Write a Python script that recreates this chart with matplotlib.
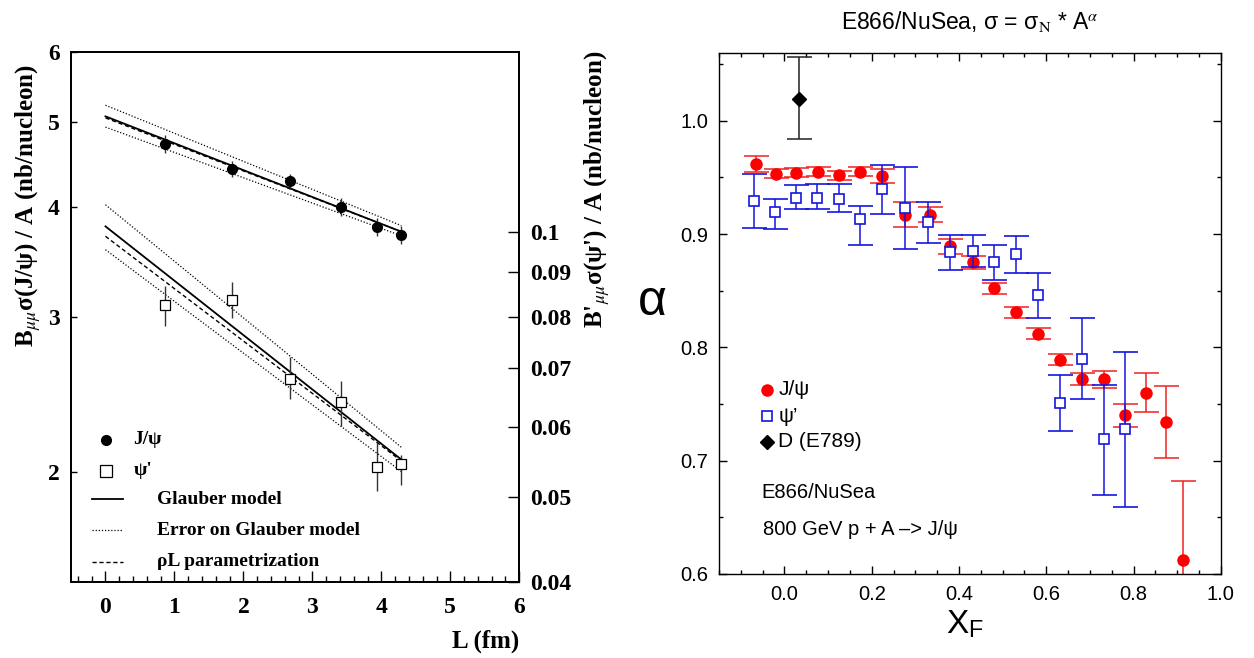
import matplotlib
matplotlib.use('Agg')
import matplotlib.pyplot as plt
from matplotlib.ticker import FixedLocator, MultipleLocator, NullLocator

plt.rcParams['font.family'] = ['Liberation Sans', 'DejaVu Sans']
plt.rcParams['mathtext.fontset'] = 'stix'

# ---- left panel: cross section per nucleon vs L ----
L_pts = [0.86, 1.84, 2.67, 3.41, 3.93, 4.29]
jpsi_sig = [4.72, 4.42, 4.28, 4.00, 3.80, 3.72]
jpsi_sig_err = [0.11, 0.09, 0.08, 0.09, 0.09, 0.09]
psip_sig = [0.0825, 0.0837, 0.0681, 0.0640, 0.0540, 0.0544]
psip_sig_lo = [0.0782, 0.0798, 0.0645, 0.0601, 0.0508, 0.0516]
psip_sig_hi = [0.0868, 0.0876, 0.0720, 0.0676, 0.0575, 0.0558]

L_model = [0.0, 4.29]
jpsi_glauber = [5.07, 3.75]
jpsi_glauber_hi = [5.22, 3.81]
jpsi_glauber_lo = [4.93, 3.71]
jpsi_rhoL = [5.05, 3.75]
psip_glauber = [0.1014, 0.0551]
psip_glauber_hi = [0.1073, 0.0569]
psip_glauber_lo = [0.0954, 0.0534]
psip_rhoL = [0.0988, 0.0549]

left_yticks = [2, 3, 4, 5, 6]
right_yticks = [0.04, 0.05, 0.06, 0.07, 0.08, 0.09, 0.1]
right_ylabels = ['0.04', '0.05', '0.06', '0.07', '0.08', '0.09', '0.1']

# ---- right panel: alpha vs xF ----
jpsi_xf = [-0.066, -0.020, 0.026, 0.076, 0.124, 0.173, 0.223, 0.277, 0.333, 0.380, 0.432,
           0.481, 0.531, 0.582, 0.632, 0.683, 0.732, 0.781, 0.828, 0.874, 0.914]
jpsi_alpha = [0.962, 0.953, 0.954, 0.955, 0.952, 0.955, 0.951, 0.917, 0.917, 0.889, 0.875,
              0.852, 0.831, 0.812, 0.789, 0.772, 0.772, 0.740, 0.760, 0.734, 0.612]
jpsi_alpha_err = [0.007, 0.004, 0.004, 0.004, 0.004, 0.004, 0.006, 0.011, 0.0065, 0.007, 0.0055,
                  0.005, 0.005, 0.005, 0.005, 0.0055, 0.0075, 0.010, 0.017, 0.032, 0.07]

psip_xf = [-0.069, -0.021, 0.026, 0.075, 0.124, 0.173, 0.224, 0.277, 0.330, 0.380, 0.431,
           0.481, 0.531, 0.582, 0.632, 0.683, 0.732, 0.781]
psip_alpha = [0.929, 0.919, 0.932, 0.932, 0.931, 0.913, 0.940, 0.923, 0.911, 0.884, 0.885,
              0.875, 0.882, 0.846, 0.751, 0.790, 0.719, 0.728]
psip_alpha_lo = [0.905, 0.904, 0.922, 0.922, 0.919, 0.890, 0.918, 0.887, 0.892, 0.868, 0.871,
                 0.859, 0.866, 0.826, 0.726, 0.754, 0.670, 0.659]
psip_alpha_hi = [0.953, 0.931, 0.943, 0.944, 0.944, 0.925, 0.961, 0.959, 0.928, 0.899, 0.899,
                 0.890, 0.898, 0.866, 0.776, 0.826, 0.767, 0.796]

d_xf = [0.033]
d_alpha = [1.0194]
d_alpha_lo = [0.9835]
d_alpha_hi = [1.0558]

serif = 'Liberation Serif'

fig = plt.figure(figsize=(12.54, 6.58), dpi=100)

# ================= left panel =================
ax1 = fig.add_axes([0.0566, 0.1155, 0.3575, 0.8055])
ax1.set_yscale('log')
ax1.set_xlim(-0.5, 6)
ax1.set_ylim(1.5, 6)
ax2 = ax1.twinx()
ax2.set_yscale('log')
ax2.set_ylim(0.04, 0.16)

# model curves
ax1.plot(L_model, jpsi_glauber, '-', color='black', lw=1.3)
ax1.plot(L_model, jpsi_glauber_hi, color='black', lw=0.9, ls=(0, (1, 1.5)))
ax1.plot(L_model, jpsi_glauber_lo, color='black', lw=0.9, ls=(0, (1, 1.5)))
ax1.plot(L_model, jpsi_rhoL, color='black', lw=1.0, ls=(0, (3, 2)))
ax2.plot(L_model, psip_glauber, '-', color='black', lw=1.3)
ax2.plot(L_model, psip_glauber_hi, color='black', lw=0.9, ls=(0, (1, 1.5)))
ax2.plot(L_model, psip_glauber_lo, color='black', lw=0.9, ls=(0, (1, 1.5)))
ax2.plot(L_model, psip_rhoL, color='black', lw=1.0, ls=(0, (3, 2)))

# data
ax1.errorbar(L_pts, jpsi_sig, yerr=jpsi_sig_err, fmt='o', color='black', ms=7,
             ecolor='#333333', elinewidth=1, capsize=0)
psip_err = [[v - lo for v, lo in zip(psip_sig, psip_sig_lo)],
            [hi - v for v, hi in zip(psip_sig, psip_sig_hi)]]
ax2.errorbar(L_pts, psip_sig, yerr=psip_err, fmt='s', mfc='white', mec='black', mew=0.9,
             ms=7.5, ecolor='#333333', elinewidth=1, capsize=0)

# ticks
ax1.set_xticks([0, 1, 2, 3, 4, 5, 6])
ax1.xaxis.set_minor_locator(MultipleLocator(0.2))
ax1.yaxis.set_major_locator(FixedLocator(left_yticks))
ax1.yaxis.set_minor_locator(NullLocator())
ax1.set_yticklabels([str(v) for v in left_yticks])
ax2.yaxis.set_major_locator(FixedLocator(right_yticks))
ax2.yaxis.set_minor_locator(NullLocator())
ax2.set_yticklabels(right_ylabels)
ax1.tick_params(axis='x', which='major', direction='in', length=8, width=1, top=False, pad=11, labelsize=17)
ax1.tick_params(axis='x', which='minor', direction='in', length=4, width=1, top=False)
ax1.tick_params(axis='y', which='major', direction='in', length=4.5, width=1, pad=8, labelsize=17)
ax2.tick_params(axis='y', which='major', direction='in', length=8, width=1, pad=8, labelsize=17)
for t in ax1.get_xticklabels() + ax1.get_yticklabels() + ax2.get_yticklabels():
    t.set_fontfamily(serif)
    t.set_fontweight('bold')
for a in (ax1, ax2):
    for s in a.spines.values():
        s.set_linewidth(1.3)

# legend (manual)
ax1.plot([0.0774], [0.268], 'o', color='black', ms=7, transform=ax1.transAxes)
ax1.plot([0.0774], [0.210], 's', mfc='white', mec='black', mew=0.9, ms=8, transform=ax1.transAxes)
ax1.plot([0.0475, 0.1167], [0.1566, 0.1566], '-', color='black', lw=1.3, transform=ax1.transAxes)
ax1.plot([0.0475, 0.1167], [0.0981, 0.0981], color='black', lw=0.9, ls=(0, (1, 1.5)), transform=ax1.transAxes)
ax1.plot([0.0475, 0.1167], [0.0383, 0.0383], color='black', lw=1.0, ls=(0, (3, 2)), transform=ax1.transAxes)
lkw = dict(transform=ax1.transAxes, fontsize=14, fontweight='bold', family=serif, va='center')
ax1.text(0.139, 0.268, 'J/ψ', **lkw)
ax1.text(0.139, 0.210, "ψ'", **lkw)
ax1.text(0.191, 0.1566, 'Glauber model', **lkw)
ax1.text(0.191, 0.0981, 'Error on Glauber model', **lkw)
ax1.text(0.191, 0.0383, 'ρL parametrization', **lkw)

fig.text(519 / 1254, 1 - 641.7 / 658, 'L (fm)', ha='right', va='center',
         fontsize=18, fontweight='bold', family=serif)
fig.text(28 / 1254, 1 - 205.5 / 658, r'B$_{\mu\mu}$σ(J/ψ) / A (nb/nucleon)', rotation=90,
         ha='center', va='center', fontsize=18, fontweight='bold', family=serif)
fig.text(597 / 1254, 1 - 189 / 658, r"B'$_{\mu\mu}$σ(ψ') / A (nb/nucleon)", rotation=90,
         ha='center', va='center', fontsize=18, fontweight='bold', family=serif)

# ================= right panel =================
ax3 = fig.add_axes([0.5734, 0.1277, 0.4001, 0.7922])
ax3.set_xlim(-0.15, 1.0)
ax3.set_ylim(0.6, 1.06)

ax3.errorbar(jpsi_xf, jpsi_alpha, yerr=jpsi_alpha_err, fmt='o', color='red', ms=8,
             ecolor='#f02020', elinewidth=1.1, capsize=9, capthick=1.1, zorder=2)
psip_aerr = [[v - lo for v, lo in zip(psip_alpha, psip_alpha_lo)],
             [hi - v for v, hi in zip(psip_alpha, psip_alpha_hi)]]
ax3.errorbar(psip_xf, psip_alpha, yerr=psip_aerr, fmt='s', mfc='white', mec='#1515e0', mew=1.2,
             ms=6.5, ecolor='#1515e0', elinewidth=1.1, capsize=9, capthick=1.1, zorder=3)
d_err = [[v - lo for v, lo in zip(d_alpha, d_alpha_lo)],
         [hi - v for v, hi in zip(d_alpha, d_alpha_hi)]]
ax3.errorbar(d_xf, d_alpha, yerr=d_err, fmt='D', color='black', ms=7,
             ecolor='#222222', elinewidth=1.1, capsize=9, capthick=1.1, zorder=3)

ax3.set_xticks([0.0, 0.2, 0.4, 0.6, 0.8, 1.0], labels=['0.0', '0.2', '0.4', '0.6', '0.8', '1.0'])
ax3.set_yticks([0.6, 0.7, 0.8, 0.9, 1.0], labels=['0.6', '0.7', '0.8', '0.9', '1.0'])
ax3.xaxis.set_minor_locator(MultipleLocator(0.05))
ax3.yaxis.set_minor_locator(MultipleLocator(0.05))
ax3.tick_params(which='major', direction='in', top=True, right=True, length=5.5, width=1,
                labelsize=14.5, pad=8)
ax3.tick_params(which='minor', direction='in', top=True, right=True, length=3, width=1)
for s in ax3.spines.values():
    s.set_linewidth(1.0)

# legend (manual)
ax3.plot([0.095], [0.353], 'o', color='red', ms=8, transform=ax3.transAxes)
ax3.plot([0.095], [0.303], 's', mfc='white', mec='#1515e0', mew=1.2, ms=6.5, transform=ax3.transAxes)
ax3.plot([0.095], [0.254], 'D', color='black', ms=7, transform=ax3.transAxes)
rkw = dict(transform=ax3.transAxes, fontsize=15, va='center')
ax3.text(0.118, 0.353, 'J/ψ', **rkw)
ax3.text(0.118, 0.303, 'ψ’', **rkw)
ax3.text(0.118, 0.254, 'D (E789)', **rkw)
ax3.text(0.085, 0.156, 'E866/NuSea', transform=ax3.transAxes, fontsize=14.5, va='center')
ax3.text(0.088, 0.086, '800 GeV p + A –> J/ψ', transform=ax3.transAxes, fontsize=14.5, va='center')

fig.text(970 / 1254, 1 - 21 / 658, r'E866/NuSea, σ = σ$_{\mathrm{N}}$ * A$^{\alpha}$',
         ha='center', va='center', fontsize=16.5)
fig.text(652 / 1254, 1 - 302 / 658, 'α', ha='center', va='center', fontsize=36)
fig.text(965 / 1254, 1 - 625 / 658, r'X$_{\mathregular{F}}$', ha='center', va='center', fontsize=24)

fig.savefig('out.png', dpi=100)
